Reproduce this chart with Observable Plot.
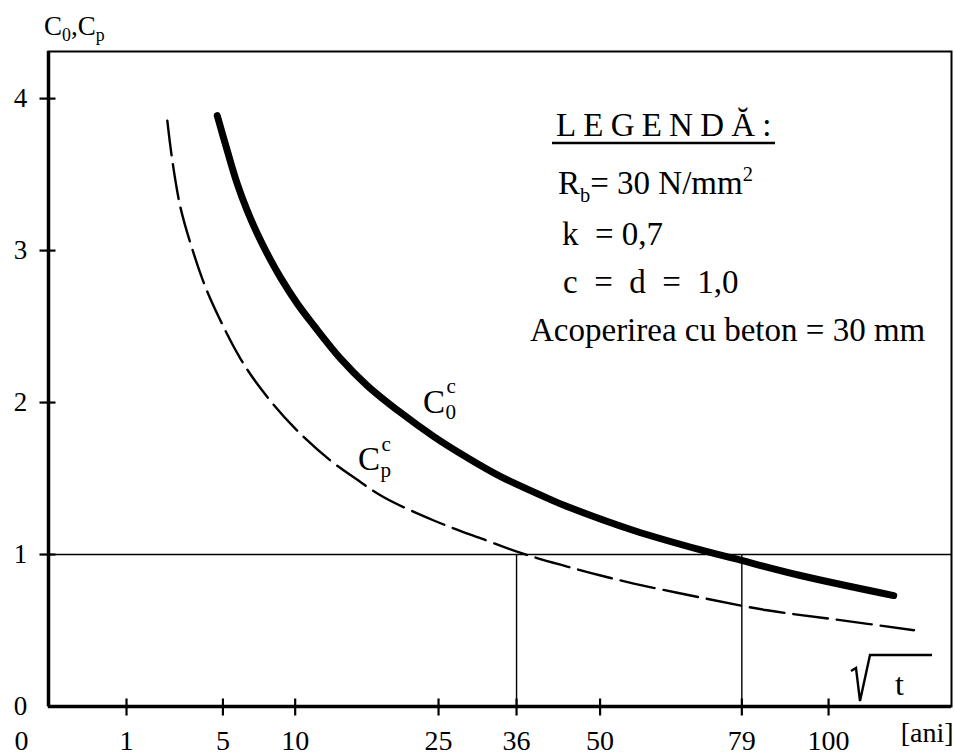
<!DOCTYPE html>
<html>
<head>
<meta charset="utf-8">
<script src="https://cdn.jsdelivr.net/npm/d3@7"></script>
<script src="https://cdn.jsdelivr.net/npm/@observablehq/plot@0.6"></script>
<style>
  html, body { margin: 0; padding: 0; background: #fff; }
  svg { display: block; }
  svg text { font-family: "Liberation Serif", "Times New Roman", Times, serif !important; }
</style>
</head>
<body>
<div id="chart"></div>
<script>
// ---- data ----
const xTickValues = [0, 1, 5, 10, 25, 36, 50, 79, 100];
const yTickValues = [0, 1, 2, 3, 4];
const xUnitLabel = "[ani]";

// C0c (thick solid curve)
const c0T = [4.68, 5.25, 5.85, 6.49, 7.16, 7.86, 8.85, 10.17, 11.57, 14.02, 16.69, 20.37, 24.4, 28.8, 33.6, 41.4, 44.2, 56.3, 69.9, 77.2, 92.9, 117.4];
const c0V = [3.888, 3.658, 3.441, 3.263, 3.112, 2.980, 2.822, 2.651, 2.507, 2.289, 2.112, 1.934, 1.776, 1.638, 1.513, 1.362, 1.316, 1.158, 1.030, 0.974, 0.862, 0.730];

// Cpc (dashed curve)
const cpT = [2.32, 2.52, 2.86, 3.39, 4.05, 4.77, 6.06, 7.51, 9.89, 13.07, 15.49, 18.48, 24.4, 31.15, 36.9, 44.2, 50.1, 56.3, 69.9, 84.9, 101.4, 123.1];
const cpV = [3.855, 3.592, 3.285, 3.013, 2.759, 2.561, 2.288, 2.079, 1.838, 1.618, 1.500, 1.377, 1.224, 1.099, 1.007, 0.921, 0.862, 0.809, 0.717, 0.633, 0.574, 0.502];

const limitValue = [1];
const limitTimes = [36, 79];

const legendTitle = "LEGENDĂ:";
const legendLines = [
  [["R", 0], ["b", -1], ["= 30 N/mm", 0], ["2", 1]],
  [["k  = 0,7", 0]],
  [["c  =  d  =  1,0", 0]],
  [["Acoperirea cu beton = 30 mm", 0]]
];

// ---- build ----
const c0 = c0T.map((t, i) => ({t, v: c0V[i]}));
const cp = cpT.map((t, i) => ({t, v: cpV[i]}));
const serif = "Liberation Serif, Times New Roman, Times, serif";

const xTickSymbol = {draw(ctx) { ctx.moveTo(0, -8); ctx.lineTo(0, 9); }};
const yTickSymbol = {draw(ctx) { ctx.moveTo(-9, 0); ctx.lineTo(7, 0); }};

const plot = Plot.plot({
  width: 955,
  height: 756,
  marginLeft: 48,
  marginRight: 4,
  marginTop: 51,
  marginBottom: 50,
  style: "font-family: 'Liberation Serif', 'Times New Roman', serif; background: #fff; color: #000; overflow: visible;",
  x: {type: "sqrt", domain: [0, 134], axis: null},
  y: {domain: [0, 4.31], axis: null},
  marks: [
    Plot.frame({stroke: "#000", strokeWidth: 2}),
    Plot.ruleY(limitValue, {stroke: "#000", strokeWidth: 1.4}),
    Plot.ruleX(limitTimes, {x: d => d, y1: 0, y2: 1, stroke: "#000", strokeWidth: 1.4}),
    Plot.line(cp, {x: "t", y: "v", stroke: "#000", strokeWidth: 2.4, strokeDasharray: "35,9", curve: "catmull-rom"}),
    Plot.line(c0, {x: "t", y: "v", stroke: "#000", strokeWidth: 7, strokeLinecap: "round", curve: "catmull-rom"}),
    Plot.ruleX([0], {stroke: "#000", strokeWidth: 3.5}),
    Plot.ruleY([0], {stroke: "#000", strokeWidth: 3.5}),
    Plot.dot(xTickValues.filter(d => d !== 0), {x: d => d, y: 0, symbol: xTickSymbol, stroke: "#000", strokeWidth: 2.2, fill: "none", r: 5}),
    Plot.dot(yTickValues.filter(d => d !== 0), {x: 0, y: d => d, symbol: yTickSymbol, stroke: "#000", strokeWidth: 2.2, fill: "none", r: 5}),
    Plot.text(xTickValues.filter(d => d !== 0), {x: d => d, y: 0, text: d => String(d), dy: 35, fontSize: 28, fontFamily: serif, fill: "#000"}),
    Plot.text([0], {x: d => d, y: 0, text: d => String(d), dx: -27, dy: 35, fontSize: 28, fontFamily: serif, fill: "#000"}),
    Plot.text(yTickValues, {x: 0, y: d => d, text: d => String(d), dx: -28, fontSize: 27, fontFamily: serif, fill: "#000"}),
    Plot.text([xUnitLabel], {frameAnchor: "bottom-right", text: d => d, textAnchor: "end", dx: 2, dy: 35, fontSize: 28, fontFamily: serif, fill: "#000"})
  ]
});

document.getElementById("chart").appendChild(plot);

// ---- annotations with sub/superscripts ----
const svg = d3.select(plot);
const sx = plot.scale("x"), sy = plot.scale("y");
const g = svg.append("g").attr("fill", "#000").attr("text-anchor", "start");

function txt(x, y, size) {
  return g.append("text").attr("x", x).attr("y", y)
    .style("font-family", "'Liberation Serif', 'Times New Roman', serif")
    .style("font-size", size + "px")
    .attr("text-anchor", "start");
}

function subsup(x, y, main, size, sub, sup) {
  const t = txt(x, y, size).text(main);
  const w = t.node().getComputedTextLength();
  if (sub) txt(x + w + 0.5, y + size * 0.2, size * 0.64).text(sub);
  if (sup) txt(x + w + 1.5, y - size * 0.6, size * 0.64).text(sup);
}

// y-axis label C0,Cp
{
  const fs = 27;
  const t = txt(44, 35, fs);
  t.append("tspan").text("C");
  t.append("tspan").style("font-size", (fs * 0.66) + "px").attr("dy", 6).text("0");
  t.append("tspan").attr("dy", -6).text(",C");
  t.append("tspan").style("font-size", (fs * 0.66) + "px").attr("dy", 6).text("p");
}

// curve labels anchored to data coordinates
subsup(sx.apply(23.1), sy.apply(1.93), "C", 33, "0", "c");
subsup(sx.apply(15.8), sy.apply(1.55), "C", 33, "p", "c");

// legend
{
  const lx = 556, fs = 33;
  txt(lx, 136, fs).attr("letter-spacing", 7.2).text(legendTitle);
  g.append("line").attr("x1", lx - 4).attr("x2", lx + 219).attr("y1", 143).attr("y2", 143)
    .attr("stroke", "#000").attr("stroke-width", 2.6);
  const baselines = [194, 245, 293, 341];
  const starts = [558, 562, 563, 530];
  legendLines.forEach((parts, i) => {
    const t = txt(starts[i], baselines[i], fs).style("white-space", "pre");
    let shift = 0;
    parts.forEach(([s, k]) => {
      const sp = t.append("tspan").text(s);
      const target = k === -1 ? 8 : k === 1 ? -13 : 0;
      if (k !== 0) sp.style("font-size", (fs * 0.62) + "px");
      sp.attr("dy", target - shift);
      shift = target;
    });
  });
}

// sqrt(t) symbol near the x-axis end
{
  const ox = sx.apply(134);
  const by = sy.apply(0);
  g.append("path")
    .attr("d", `M${ox - 100},${by - 35} L${ox - 95},${by - 38} L${ox - 91},${by - 5} L${ox - 81},${by - 51} L${ox - 19},${by - 51}`)
    .attr("fill", "none").attr("stroke", "#000").attr("stroke-width", 2.4).attr("stroke-linejoin", "miter");
  txt(ox - 56, by - 11, 32).text("t");
}
</script>
</body>
</html>
